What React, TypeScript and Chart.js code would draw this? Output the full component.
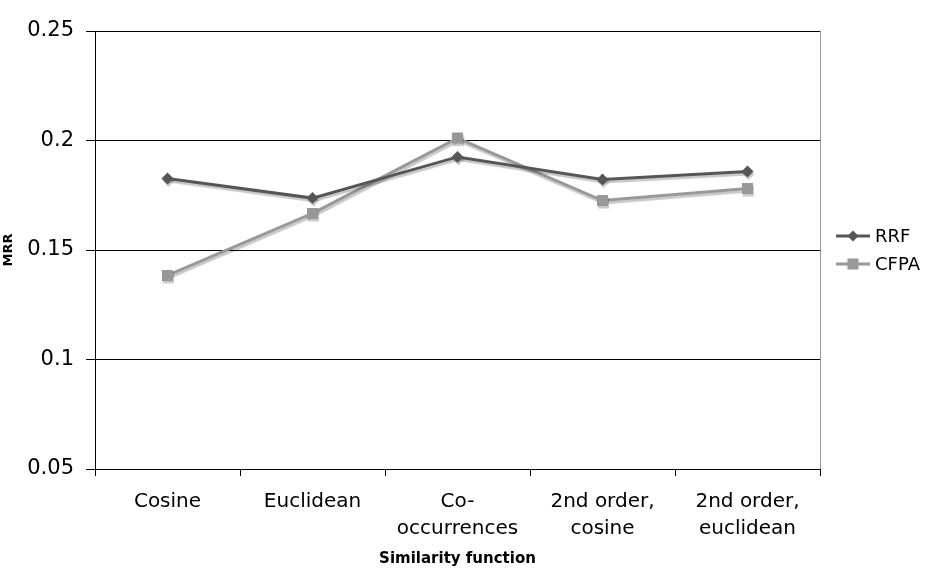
import React, { useEffect, useRef } from "react";
import { Chart, registerables } from "chart.js";

Chart.register(...registerables);

const categories: (string | string[])[] = [
  "Cosine",
  "Euclidean",
  ["Co-", "occurrences"],
  ["2nd order,", "cosine"],
  ["2nd order,", "euclidean"],
];
const rrfValues = [0.1826, 0.1737, 0.1925, 0.1822, 0.1858];
const cfpaValues = [0.1384, 0.1667, 0.2011, 0.1726, 0.1781];
const yTickValues = [0.05, 0.1, 0.15, 0.2, 0.25];
const yTickLabels = ["0.05", "0.1", "0.15", "0.2", "0.25"];
const seriesNames = ["RRF", "CFPA"];
const xTitle = "Similarity function";
const yTitle = "MRR";

const FONT = "'DejaVu Sans', Verdana, sans-serif";
const RRF_COLOR = "#565656";
const CFPA_COLOR = "#989898";

const shadowPlugin = {
  id: "lineShadow",
  beforeDatasetDraw(chart: any) {
    const ctx = chart.ctx;
    ctx.save();
    ctx.shadowColor = "rgba(0,0,0,0.22)";
    ctx.shadowOffsetX = 1;
    ctx.shadowOffsetY = 2.5;
    ctx.shadowBlur = 1;
  },
  afterDatasetDraw(chart: any) {
    chart.ctx.restore();
  },
};

const framePlugin = {
  id: "frameAndLegend",
  afterDraw(chart: any) {
    const { ctx, chartArea } = chart;
    ctx.save();
    // right border
    ctx.strokeStyle = "#9a9a9a";
    ctx.lineWidth = 1;
    ctx.beginPath();
    ctx.moveTo(Math.round(chartArea.right) + 0.5, chartArea.top);
    ctx.lineTo(Math.round(chartArea.right) + 0.5, chartArea.bottom);
    ctx.stroke();

    // legend
    const mid = (chartArea.top + chartArea.bottom) / 2;
    const rows = [mid - 14, mid + 14];
    const x0 = chartArea.right + 16;
    const lineLen = 34;
    chart.data.datasets.forEach((ds: any, i: number) => {
      const y = rows[i];
      ctx.strokeStyle = ds.borderColor;
      ctx.lineWidth = 3;
      ctx.beginPath();
      ctx.moveTo(x0, y);
      ctx.lineTo(x0 + lineLen, y);
      ctx.stroke();
      ctx.fillStyle = ds.pointBackgroundColor;
      const cx = x0 + lineLen / 2;
      if (ds.pointStyle === "rectRot") {
        const r = 5.5;
        ctx.beginPath();
        ctx.moveTo(cx, y - r);
        ctx.lineTo(cx + r, y);
        ctx.lineTo(cx, y + r);
        ctx.lineTo(cx - r, y);
        ctx.closePath();
        ctx.fill();
      } else {
        const h = 5.5;
        ctx.fillRect(cx - h, y - h, 2 * h, 2 * h);
      }
      ctx.fillStyle = "#000";
      ctx.font = `18px ${FONT}`;
      ctx.textBaseline = "middle";
      ctx.textAlign = "left";
      ctx.fillText(ds.label, x0 + lineLen + 5, y + 1);
    });
    ctx.restore();
  },
};

export default function App() {
  const ref = useRef<HTMLCanvasElement | null>(null);

  useEffect(() => {
    document.body.style.margin = "0";
    const canvas = ref.current;
    if (!canvas) return;
    const chart = new Chart(canvas, {
      type: "line",
      data: {
        labels: categories,
        datasets: [
          {
            label: seriesNames[0],
            data: rrfValues,
            borderColor: RRF_COLOR,
            backgroundColor: RRF_COLOR,
            pointBackgroundColor: RRF_COLOR,
            pointBorderColor: RRF_COLOR,
            pointStyle: "rectRot",
            pointRadius: 6,
            pointBorderWidth: 0,
            borderWidth: 3,
            tension: 0,
            fill: false,
          },
          {
            label: seriesNames[1],
            data: cfpaValues,
            borderColor: CFPA_COLOR,
            backgroundColor: CFPA_COLOR,
            pointBackgroundColor: CFPA_COLOR,
            pointBorderColor: CFPA_COLOR,
            pointStyle: "rect",
            pointRadius: 7.8,
            pointBorderWidth: 0,
            borderWidth: 3,
            tension: 0,
            fill: false,
          },
        ],
      },
      options: {
        animation: false,
        responsive: false,
        devicePixelRatio: 1,
        layout: { padding: { top: 31, right: 112, bottom: 0, left: 0 } },
        plugins: {
          legend: { display: false },
          tooltip: { enabled: false },
        },
        scales: {
          x: {
            type: "category",
            offset: true,
            grid: {
              offset: true,
              drawOnChartArea: false,
              drawTicks: true,
              tickLength: 7,
              color: "#000",
            },
            border: { display: true, color: "#000", width: 1 },
            ticks: {
              color: "#000",
              font: { family: FONT, size: 20, lineHeight: 1.35 },
              padding: 12,
              maxRotation: 0,
              autoSkip: false,
            },
            title: {
              display: true,
              text: xTitle,
              color: "#000",
              font: { family: FONT, size: 15, weight: "bold", lineHeight: 1.2 },
              padding: { top: 0, bottom: 1 },
            },
            afterFit(scale: any) {
              scale.height = 100;
            },
          },
          y: {
            type: "linear",
            min: 0.05,
            max: 0.25,
            afterBuildTicks(scale: any) {
              scale.ticks = yTickValues.map((v) => ({ value: v }));
            },
            grid: {
              color: "#000",
              lineWidth: 1,
              tickLength: 9,
            },
            border: { display: true, color: "#000", width: 1 },
            ticks: {
              color: "#000",
              font: { family: FONT, size: 21 },
              padding: 12,
              callback: (v: any) => {
                const i = yTickValues.findIndex((t) => Math.abs(t - Number(v)) < 1e-9);
                return i >= 0 ? yTickLabels[i] : "";
              },
            },
            title: {
              display: true,
              text: yTitle,
              color: "#000",
              font: { family: FONT, size: 13, weight: "bold", lineHeight: 1.2 },
              padding: { top: 1, bottom: 0 },
            },
            afterFit(scale: any) {
              scale.width = 95;
            },
          },
        },
      },
      plugins: [shadowPlugin, framePlugin],
    });
    return () => chart.destroy();
  }, []);

  return (
    <div style={{ width: 932, height: 569, background: "#fff" }}>
      <canvas ref={ref} width={932} height={569} style={{ display: "block" }} />
    </div>
  );
}
